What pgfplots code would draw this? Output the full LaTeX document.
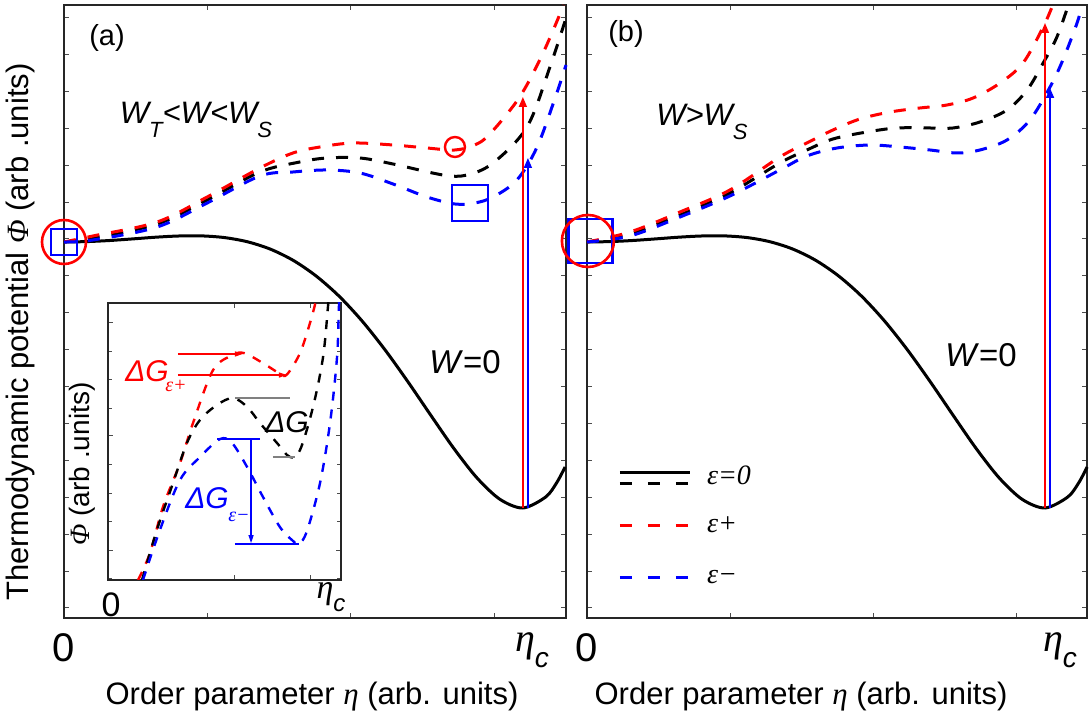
\documentclass[border=0pt]{standalone}
\usepackage{pgfplots}
\pgfplotsset{compat=1.18}
\usepackage{pgfplotstable}
\usetikzlibrary{arrows.meta}
\usepackage{fontspec}
\setmainfont{Liberation Sans}
\newfontfamily\serif{Liberation Serif}
\newcommand\fs[1]{\fontsize{#1bp}{#1bp}\selectfont}
\pgfplotstableread{
x y
0 3.760
0.05 3.764
0.10 3.775
0.15 3.791
0.20 3.808
0.25 3.820
0.30 3.821
0.35 3.804
0.40 3.762
0.45 3.688
0.50 3.575
0.55 3.418
0.60 3.216
0.65 2.968
0.70 2.679
0.75 2.359
0.80 2.023
0.85 1.693
0.90 1.401
0.95 1.187
1.00 1.100
1.05 1.211
1.074 1.355
1.092 1.510
}\wzero
\pgfplotsset{
  mainax/.style={scale only axis, width=251bp, height=306.5bp, anchor=south west,
    xmin=0, ymin=0, ymax=6.13,
    xtick={0,0.3125,0.625,0.9375}, ytick={0.10,0.469,...,6.0},
    xticklabels={}, yticklabels={}, tick align=inside, major tick length=2.5bp,
    axis line style={black!85, line width=0.6bp}, tick style={black!70, line width=0.5bp},
    clip=false},
  solidc/.style={black, line width=1.5bp, no marks, smooth, tension=0.5},
  dashc/.style={line width=1.5bp, dash pattern=on 6bp off 6bp, no marks, smooth, tension=0.55},
  arr/.style={line width=0.8bp, -{Triangle[length=5bp,width=4bp]}, no marks},
  insdash/.style={line width=1.2bp, dash pattern=on 4.5bp off 4.5bp, no marks, smooth, tension=0.55},
}
\begin{document}
\begin{tikzpicture}
\useasboundingbox (0,0) rectangle (544.5bp,361bp);
% ---------- panel (a)
\begin{axis}[mainax, at={(32bp,52bp)}, xmax=1.094]
\addplot[solidc] table {\wzero};
\addplot[dashc, black] coordinates {(0,3.76) (0.063,3.80) (0.203,3.94) (0.312,4.18) (0.427,4.46) (0.514,4.56) (0.573,4.60) (0.645,4.60) (0.717,4.54) (0.826,4.43) (0.878,4.43) (0.935,4.55) (1.009,4.91) (1.059,5.51) (1.094,6.00)};
\addplot[dashc, red] coordinates {(0,3.76) (0.063,3.82) (0.203,3.96) (0.312,4.21) (0.427,4.50) (0.499,4.65) (0.558,4.71) (0.630,4.75) (0.717,4.73) (0.791,4.70) (0.852,4.68) (0.895,4.73) (0.928,4.84) (0.993,5.21) (1.044,5.65) (1.089,6.13)};
\addplot[dashc, blue] coordinates {(0,3.76) (0.063,3.78) (0.203,3.91) (0.312,4.15) (0.427,4.42) (0.499,4.46) (0.573,4.48) (0.645,4.45) (0.717,4.34) (0.791,4.21) (0.852,4.14) (0.895,4.15) (0.935,4.21) (0.987,4.38) (1.031,4.71) (1.074,5.25) (1.094,5.53)};
\addplot[arr, red] coordinates {(1.0,1.10) (1.0,5.21)};
\addplot[arr, blue] coordinates {(1.011,1.10) (1.011,4.60)};
\addplot[only marks, mark=square, mark size=6.5bp, blue, line width=1.3bp] coordinates {(0,3.76)};
\addplot[only marks, mark=o, mark size=11bp, red, line width=1.3bp] coordinates {(0,3.76)};
\addplot[only marks, mark=o, mark size=5bp, red, line width=1.2bp] coordinates {(0.852,4.71)};
\addplot[only marks, mark=square, mark size=9bp, blue, line width=1.3bp] coordinates {(0.885,4.15)};
\end{axis}
% ---------- panel (b)
\begin{axis}[mainax, at={(293.5bp,52bp)}, width=250bp, xmax=1.0917]
\addplot[solidc] table {\wzero};
\addplot[dashc, black] coordinates {(0,3.76) (0.094,3.84) (0.203,4.03) (0.312,4.25) (0.421,4.55) (0.480,4.68) (0.537,4.79) (0.611,4.86) (0.677,4.90) (0.749,4.90) (0.799,4.90) (0.858,4.96) (0.917,5.08) (0.961,5.28) (0.996,5.55) (1.026,5.81) (1.051,6.13)};
\addplot[dashc, red] coordinates {(0,3.76) (0.094,3.86) (0.203,4.06) (0.312,4.28) (0.421,4.61) (0.480,4.75) (0.537,4.88) (0.596,4.99) (0.662,5.06) (0.727,5.10) (0.786,5.13) (0.843,5.20) (0.902,5.35) (0.952,5.55) (0.996,5.91) (1.017,6.13)};
\addplot[dashc, blue] coordinates {(0,3.76) (0.094,3.82) (0.203,4.01) (0.312,4.22) (0.421,4.48) (0.480,4.62) (0.546,4.70) (0.618,4.73) (0.683,4.71) (0.749,4.68) (0.808,4.65) (0.858,4.68) (0.917,4.78) (0.967,4.98) (1.011,5.31) (1.039,5.58) (1.070,5.95) (1.081,6.13)};
\addplot[arr, red] coordinates {(1.0,1.10) (1.0,5.95)};
\addplot[arr, blue] coordinates {(1.011,1.10) (1.011,5.30)};
\addplot[only marks, mark=square, mark size=11bp, blue, line width=1.3bp] coordinates {(0.007,3.77)};
\addplot[only marks, mark=o, mark size=13bp, red, line width=1.3bp] coordinates {(0.002,3.77)};
\end{axis}
% ---------- inset
\begin{axis}[at={(54bp,71bp)}, anchor=south west, scale only axis, width=116.5bp, height=138.5bp,
  xmin=0, xmax=1, ymin=0, ymax=1, xtick={0.545,0.867}, ytick={0.108,0.523,0.931},
  minor ytick={0.0055,0.2105,0.313,0.4155,0.6205,0.723,0.8255},
  xticklabels={}, yticklabels={}, tick align=inside, major tick length=2.5bp, minor tick length=2bp,
  axis line style={black!85, line width=0.6bp}, tick style={black!70, line width=0.5bp},
  axis background/.style={fill=white}]
\addplot[insdash, red] coordinates {(0.129,0.0) (0.180,0.097) (0.236,0.264) (0.309,0.422) (0.365,0.567) (0.451,0.758) (0.536,0.812) (0.585,0.819) (0.665,0.783) (0.738,0.745) (0.768,0.742) (0.824,0.819) (0.867,0.928) (0.888,0.993) (0.897,1.03)};
\addplot[insdash, black] coordinates {(0.146,0.0) (0.210,0.181) (0.279,0.350) (0.339,0.495) (0.395,0.578) (0.468,0.632) (0.536,0.657) (0.597,0.625) (0.652,0.567) (0.725,0.495) (0.781,0.444) (0.824,0.469) (0.880,0.625) (0.923,0.805) (0.944,0.986) (0.948,1.03)};
\addplot[insdash, blue] coordinates {(0.150,0.0) (0.223,0.181) (0.309,0.361) (0.395,0.444) (0.481,0.509) (0.532,0.495) (0.597,0.408) (0.665,0.300) (0.738,0.191) (0.794,0.141) (0.820,0.130) (0.854,0.177) (0.910,0.350) (0.953,0.567) (0.983,0.805) (0.991,0.986) (0.996,1.03)};
\addplot[red, line width=0.6bp, -{Triangle[length=4bp,width=2.5bp]}] coordinates {(0.300,0.816) (0.579,0.816)};
\addplot[red, line width=0.6bp, -{Triangle[length=4bp,width=2.5bp]}] coordinates {(0.300,0.740) (0.768,0.740)};
\addplot[gray, line width=0.8bp] coordinates {(0.545,0.657) (0.781,0.657)};
\addplot[gray, line width=0.8bp] coordinates {(0.708,0.444) (0.803,0.444)};
\addplot[blue, line width=0.6bp] coordinates {(0.468,0.509) (0.652,0.509)};
\addplot[blue, line width=0.6bp] coordinates {(0.545,0.130) (0.820,0.130)};
\addplot[blue, line width=0.6bp, -{Triangle[length=4bp,width=2.5bp]}] coordinates {(0.614,0.509) (0.614,0.133)};
\end{axis}
% ---------- texts and legend (1 unit = 1 px of the reference)
\begin{scope}[x=0.5bp, y=0.5bp]
\node[font=\fs{14.5}] at (107,684) {(a)};
\node[font=\fs{14.5}] at (626,688) {(b)};
\node[font=\fs{15.5}\itshape] at (196,602) {W\raisebox{-0.45em}{\fs{11}T}<W<W\raisebox{-0.45em}{\fs{11}S}};
\node[font=\fs{15.5}\itshape] at (702,600) {W>W\raisebox{-0.45em}{\fs{11}S}};
\node[font=\fs{16.5}] at (465,360) {\textit{W}=0};
\node[font=\fs{16.5}] at (981,367) {\textit{W}=0};
\node[font=\fs{20}] at (64,74) {0};
\node[font=\fs{20}] at (587,74) {0};
\node[font=\fs{20}] at (532,72) {{\serif\itshape η}\raisebox{-0.4em}{\fs{14}\itshape c}};
\node[font=\fs{20}] at (1060,72) {{\serif\itshape η}\raisebox{-0.4em}{\fs{14}\itshape c}};
\node[font=\fs{15.5}] at (312,25) {Order parameter {\serif\itshape η} (arb. units)};
\node[font=\fs{15.5}] at (801,25) {Order parameter {\serif\itshape η} (arb. units)};
\node[font=\fs{15.5}, rotate=90] at (20,390) {Thermodynamic potential {\serif\itshape Φ} (arb .units)};
% inset texts
\node[font=\fs{14}, rotate=90] at (82,258) {{\serif\itshape Φ} (arb .units)};
\node[font=\fs{17}] at (111,117) {0};
\node[font=\fs{17}] at (331,125) {{\serif\itshape η}\raisebox{-0.4em}{\fs{12}\itshape c}};
\node[font=\fs{15}\itshape, red] at (147,351) {ΔG};
\node[font=\fs{10}, red] at (176,336) {\serif\itshape ε+};
\node[font=\fs{15}\itshape] at (287,300) {ΔG};
\node[font=\fs{15}\itshape, blue] at (207,224) {ΔG};
\node[font=\fs{10}, blue] at (239,205) {\serif\itshape ε−};
% legend
\draw[black, line width=1.5bp] (620,250) -- (690,250);
\draw[black, line width=1.5bp, dash pattern=on 6bp off 8bp] (620,239) -- (690,239);
\draw[red, line width=1.5bp, dash pattern=on 6bp off 8bp] (620,197) -- (690,197);
\draw[blue, line width=1.5bp, dash pattern=on 6bp off 8bp] (620,145) -- (690,145);
\node[font=\fs{14}\serif\itshape, anchor=west] at (700,247) {ε=0};
\node[font=\fs{14}\serif\itshape, anchor=west] at (700,197) {ε+};
\node[font=\fs{14}\serif\itshape, anchor=west] at (700,145) {ε−};
\end{scope}
\end{tikzpicture}
\end{document}
